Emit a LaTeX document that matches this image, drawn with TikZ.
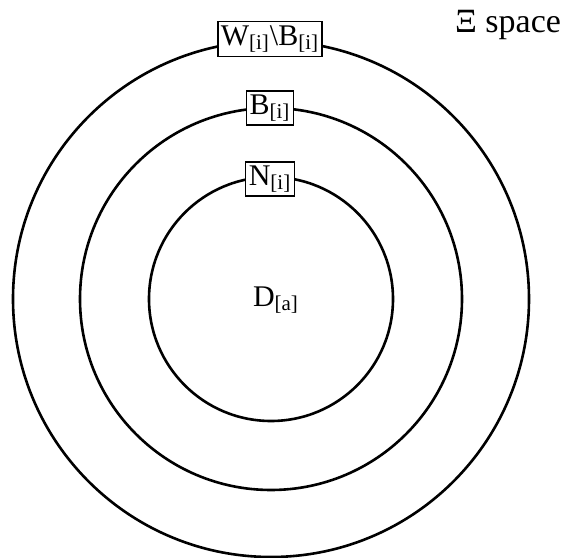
\documentclass[tikz,border=0pt]{standalone}
\usepackage{fontspec}
\setmainfont{Liberation Serif}
\usepackage{tikz}
\usetikzlibrary{positioning}

\begin{document}
\begin{tikzpicture}[
    x=0.5pt, y=0.5pt,
    ring/.style={draw, line width=1.3pt},
    setlbl/.style={rectangle, draw, fill=white, line width=0.7pt, inner xsep=1.5pt,
                   inner ysep=1.8pt, font=\fontsize{15}{17}\selectfont},
    plain/.style={font=\fontsize{15}{17}\selectfont}
]
\useasboundingbox (0,0) rectangle (569,558);

\coordinate (ctr) at (271,259);

% nested regions
\draw[ring] (ctr) circle[radius=129pt];
\draw[ring] (ctr) circle[radius=95.5pt];
\draw[ring] (ctr) circle[radius=61pt];

% region labels
\node[setlbl] (wb) at (270,519) {W\textsubscript{[i]}\textbackslash B\textsubscript{[i]}};
\node[setlbl] (bi) at (270,450) {B\textsubscript{[i]}};
\node[setlbl] (ni) at (270,379) {N\textsubscript{[i]}};
\node[plain]  (da) at (276,258) {D\textsubscript{[a]}};

\node[plain, anchor=east, font=\fontsize{17}{19}\selectfont] (xi) at (568,533) {Ξ space};

\end{tikzpicture}
\end{document}
